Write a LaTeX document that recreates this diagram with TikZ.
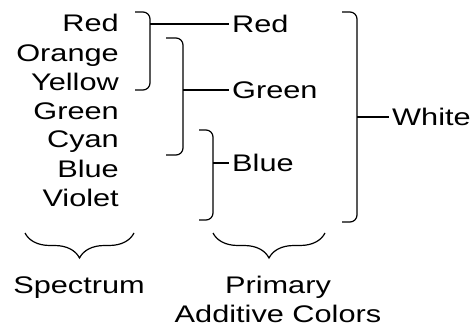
\documentclass[tikz,border=0pt]{standalone}
\usepackage{fontspec}
\setmainfont{Liberation Sans}[FakeStretch=1.28]
\usetikzlibrary{decorations.pathreplacing}

\begin{document}
\begin{tikzpicture}[
  x=1pt, y=-1pt,
  every node/.style={font=\fontsize{24}{29}\selectfont, inner sep=0pt},
  spec/.style={anchor=base east},
  prim/.style={anchor=west, text height=17pt, text depth=0pt, inner xsep=3pt},
  bracket/.style={line width=1.2pt, rounded corners=7pt},
  link/.style={line width=1.2pt},
  underbrace/.style={line width=1.2pt, decorate, decoration={brace, amplitude=25pt}},
]
\useasboundingbox (0,0) rectangle (474,326);

% Spectrum column
\node[spec] (sRed)    at (119,32)  {Red};
\node[spec] (sOrange) at (119,62)  {Orange};
\node[spec] (sYellow) at (119,91)  {Yellow};
\node[spec] (sGreen)  at (119,120) {Green};
\node[spec] (sCyan)   at (119,148) {Cyan};
\node[spec] (sBlue)   at (119,178) {Blue};
\node[spec] (sViolet) at (119,207) {Violet};

% Primary colours and white
\node[prim] (pRed)   at (229,24)  {Red};
\node[prim] (pGreen) at (229,90)  {Green};
\node[prim] (pBlue)  at (229,163) {Blue};
\node[prim] (white)  at (389,117) {White};

% Brackets
\draw[bracket] (135,12) -- (150,12) -- (150,90) -- (135,90);
\draw[bracket] (166,38) -- (183,38) -- (183,155) -- (166,155);
\draw[bracket] (199,130) -- (213,130) -- (213,220) -- (199,220);
\draw[bracket] (342,12) -- (357,12) -- (357,222) -- (342,222);
\coordinate (bRed)   at (150,24);
\coordinate (bGreen) at (183,90);
\coordinate (bBlue)  at (213,163);
\coordinate (bWhite) at (357,117);

% Links
\draw[link] (bRed) -- (pRed.west);
\draw[link] (bGreen) -- (pGreen.west);
\draw[link] (bBlue) -- (pBlue.west);
\draw[link] (bWhite) -- (white.west);

% Bottom braces and captions
\draw[underbrace] (134,233) -- (25,233);
\draw[underbrace] (325,233) -- (213,233);
\node[anchor=base] (spectrum) at (79,293) {Spectrum};
\node[anchor=base, align=center] (additive) at (278,322) {Primary\\Additive Colors};

\end{tikzpicture}
\end{document}
